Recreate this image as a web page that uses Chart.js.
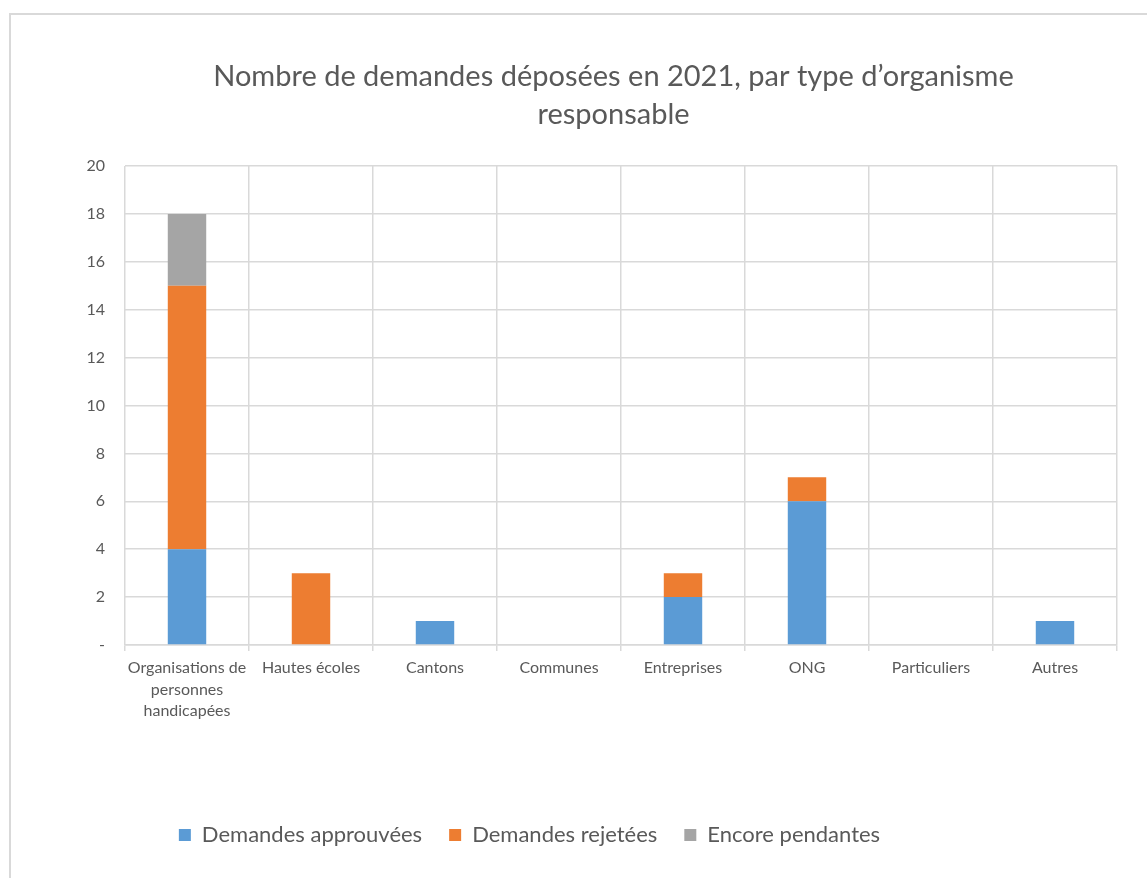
<!DOCTYPE html>
<html>
<head>
<meta charset="utf-8">
<script src="https://cdn.jsdelivr.net/npm/chart.js@4"></script>
<style>
  body { margin: 0; background: #fff; }
  #frame { position: absolute; left: 9px; top: 13px; width: 1200px; height: 900px; border: 2px solid #d9d9d9; }
  #wrap { position: absolute; left: 0; top: 0; width: 1147px; height: 878px; }
</style>
</head>
<body>
<div id="frame"></div>
<div id="wrap"><canvas id="chart1" width="1147" height="878"></canvas></div>
<script>
const categories = [
  ['Organisations de', 'personnes', 'handicapées'],
  'Hautes écoles',
  'Cantons',
  'Communes',
  'Entreprises',
  'ONG',
  'Particuliers',
  'Autres',
];
const approuvees = [4, 0, 1, 0, 2, 6, 0, 1];
const rejetees = [11, 3, 0, 0, 1, 1, 0, 0];
const pendantes = [3, 0, 0, 0, 0, 0, 0, 0];
const yTicks = [0, 2, 4, 6, 8, 10, 12, 14, 16, 18, 20];

const textColor = '#595959';
const gridColor = '#d9d9d9';
const fontFamily = "'Lato', 'Open Sans', sans-serif";

// Excel places the title a bit right and the legend a bit left of centre
const boxShift = {
  id: 'boxShift',
  afterLayout(chart) {
    chart.legend.left -= 29;
    chart.legend.right -= 29;
    chart.titleBlock.left += 55;
    chart.titleBlock.right += 55;
  },
};

const ctx = document.getElementById('chart1');
new Chart(ctx, {
  type: 'bar',
  data: {
    labels: categories,
    datasets: [
      {
        label: 'Demandes approuvées',
        data: approuvees,
        backgroundColor: '#5b9bd5',
      },
      {
        label: 'Demandes rejetées',
        data: rejetees,
        backgroundColor: '#ed7d31',
      },
      {
        label: 'Encore pendantes',
        data: pendantes,
        backgroundColor: '#a5a5a5',
      },
    ],
  },
  plugins: [boxShift],
  options: {
    responsive: false,
    animation: false,
    layout: {
      padding: { left: 0, right: 30, top: 58, bottom: 22 },
    },
    datasets: {
      bar: {
        categoryPercentage: 1,
        barPercentage: 0.31,
      },
    },
    scales: {
      x: {
        stacked: true,
        grid: {
          offset: true,
          color: gridColor,
          lineWidth: 1.5,
          tickLength: 6,
        },
        border: { color: gridColor, width: 1.5 },
        ticks: {
          color: textColor,
          padding: 6,
          maxRotation: 0,
          autoSkip: false,
          font: { size: 16, family: fontFamily, lineHeight: 1.35 },
        },
        afterFit(scale) {
          scale.height = 878 - 22 - scale.chart.legend.height - 645;
        },
      },
      y: {
        stacked: true,
        min: 0,
        max: 20,
        afterBuildTicks(scale) {
          scale.ticks = yTicks.map(v => ({ value: v }));
        },
        grid: {
          color: gridColor,
          lineWidth: 1.5,
          drawTicks: false,
        },
        border: { display: false },
        ticks: {
          color: textColor,
          padding: 20,
          font: { size: 16, family: fontFamily },
          callback: v => (v === 0 ? '-' : v),
        },
        afterFit(scale) {
          scale.width = 125;
        },
      },
    },
    plugins: {
      title: {
        display: true,
        text: ["Nombre de demandes déposées en 2021, par type d’organisme", 'responsable'],
        color: textColor,
        font: { size: 29, family: fontFamily, weight: 'normal', lineHeight: 1.31 },
        padding: { top: 0, bottom: 32 },
      },
      legend: {
        position: 'bottom',
        labels: {
          color: textColor,
          boxWidth: 12,
          boxHeight: 12,
          padding: 27,
          font: { size: 22, family: fontFamily },
        },
      },
      tooltip: { enabled: false },
    },
  },
});
</script>
</body>
</html>
